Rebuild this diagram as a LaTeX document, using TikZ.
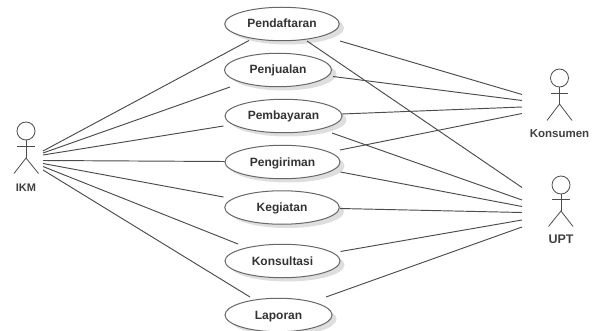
\documentclass[tikz,border=0pt]{standalone}
\usepackage{fontspec}
\setmainfont{Liberation Sans}
\usetikzlibrary{shapes.geometric}
\definecolor{ln}{gray}{0.3}
\tikzset{
  usecase/.style={ellipse,draw=ln!85,line width=1pt,fill=white,inner sep=0pt,minimum width=#1,minimum height=33.5pt,font=\bfseries\fontsize{12}{14}\selectfont,text=black!80,text height=9pt,text depth=1pt},
  shade/.style={ellipse,fill=black!13,draw=none,inner sep=0pt,minimum width=#1,minimum height=33pt},
  assoc/.style={draw=ln,line width=0.95pt},
  stick/.style={draw=ln,line width=0.8pt},
  head/.style={circle,draw=ln,line width=0.8pt,fill=white,minimum size=18pt,inner sep=0pt},
  actorlabel/.style={font=\bfseries\fontsize{11.5}{13}\selectfont,text=black!75,inner sep=0pt},
}
\begin{document}
\begin{tikzpicture}[x=1pt,y=-1pt]
\useasboundingbox (0,0) rectangle (596,331);
% shadows
\foreach \x/\y/\w in {282/24/114,278/70/107,283/116/117,282/162/115,282/207.5/114,282/261/115,278/315/107}
  \node[shade=\w pt] at (\x+5,\y+4) {};
% use cases
\node[usecase=114.5pt] (daftar) at (282,24) {Pendaftaran};
\node[usecase=107pt] (jual) at (278,70) {Penjualan};
\node[usecase=117pt] (bayar) at (283.5,116) {Pembayaran};
\node[usecase=115pt] (kirim) at (282.5,162) {Pengiriman};
\node[usecase=114.5pt] (giat) at (282,207.5) {Kegiatan};
\node[usecase=115pt] (konsul) at (282.5,261) {Konsultasi};
\node[usecase=107pt] (lapor) at (278.5,315) {Laporan};
% actors
\node[head] (ikmh) at (26,131) {};
\coordinate (ikmhip) at (26,158);
\draw[stick] (ikmh.south) -- (ikmhip);
\coordinate (ikmal) at (17,146); \coordinate (ikmar) at (35,146);
\draw[stick] (ikmal) -- (ikmar);
\coordinate (ikmll) at (14,173.5); \coordinate (ikmlr) at (38.5,173.5);
\draw[stick] (ikmll) -- (ikmhip) -- (ikmlr);
\node[actorlabel,font=\bfseries\fontsize{11}{13}\selectfont] (ikm) at (26,187.5) {IKM};

\node[head] (konh) at (559.5,78) {};
\coordinate (konhip) at (559.5,104);
\draw[stick] (konh.south) -- (konhip);
\coordinate (konal) at (551,93); \coordinate (konar) at (568,93);
\draw[stick] (konal) -- (konar);
\coordinate (konll) at (547,120.5); \coordinate (konlr) at (572,120.5);
\draw[stick] (konll) -- (konhip) -- (konlr);
\node[actorlabel] (kon) at (559.5,133.5) {Konsumen};

\node[head] (upth) at (561,185) {};
\coordinate (upthip) at (561,211);
\draw[stick] (upth.south) -- (upthip);
\coordinate (uptal) at (552,199); \coordinate (uptar) at (570,199);
\draw[stick] (uptal) -- (uptar);
\coordinate (uptll) at (548.5,226.5); \coordinate (uptlr) at (573,226.5);
\draw[stick] (uptll) -- (upthip) -- (uptlr);
\node[actorlabel,font=\bfseries\fontsize{12.5}{14}\selectfont] (upt) at (561,239.5) {UPT};
% connector ends
\coordinate (i1) at (43,151); \coordinate (i2) at (43,153); \coordinate (i3) at (43,155);
\coordinate (i4) at (43,160.5); \coordinate (i5) at (43,163.5); \coordinate (i6) at (43,166.5); \coordinate (i7) at (43,170);
\coordinate (d1) at (249,40.5); \coordinate (j1) at (230,87); \coordinate (b1) at (223.5,126);
\coordinate (k1) at (224.5,161.5); \coordinate (g1) at (223.5,197); \coordinate (s1) at (238,244); \coordinate (l1) at (250,297);
\coordinate (d2) at (340,41); \coordinate (j2) at (333,76.5); \coordinate (b2) at (342,114); \coordinate (k2) at (340,150);
\coordinate (d3) at (307,41); \coordinate (b3) at (332,133); \coordinate (k3) at (340.5,172); \coordinate (g3) at (340,208.5); \coordinate (s3) at (340.5,251.5); \coordinate (l3) at (326,297);
\coordinate (ka) at (522,94.5); \coordinate (kb) at (522,100.5); \coordinate (kc) at (522,107); \coordinate (kd) at (522,113.5);
\coordinate (ua) at (522,187.5); \coordinate (ub) at (522,200); \coordinate (uc) at (522,206.5); \coordinate (ud) at (522,212.5); \coordinate (ue) at (522,220); \coordinate (uf) at (522,227);
\foreach \a/\b in {i1/d1,i2/j1,i3/b1,i4/k1,i5/g1,i6/s1,i7/l1,d2/ka,j2/kb,b2/kc,k2/kd,d3/ua,b3/ub,k3/uc,g3/ud,s3/ue,l3/uf}
  \draw[assoc] (\a) -- (\b);
\end{tikzpicture}
\end{document}
